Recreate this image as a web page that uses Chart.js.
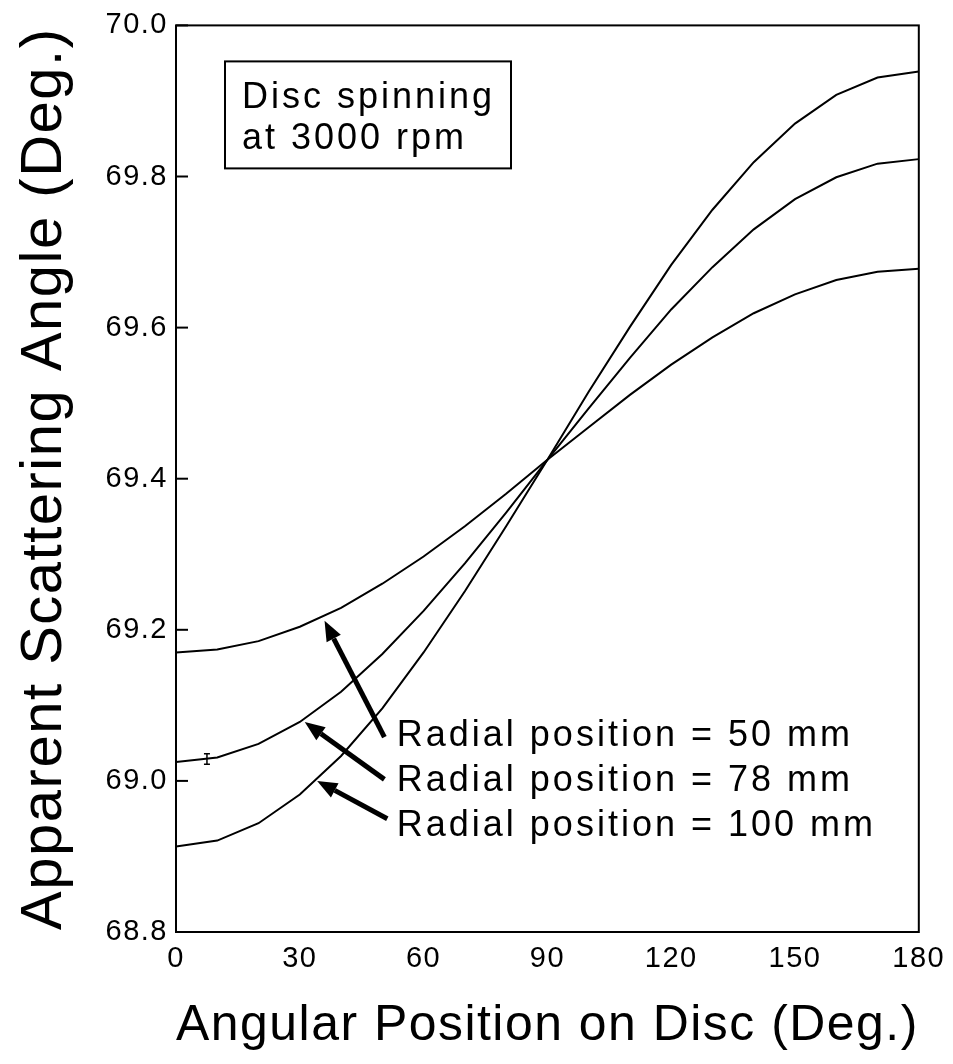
<!DOCTYPE html>
<html lang="en">
<head>
<meta charset="UTF-8">
<title>Apparent scattering angle vs angular position</title>
<script src="https://cdn.jsdelivr.net/npm/chart.js"></script>
<style>
  html, body { margin: 0; padding: 0; background: #fff; }
  #chart { display: block; }
</style>
</head>
<body>
<canvas id="chart" width="953" height="1064"></canvas>
<script>
  // values, every 10 deg
  const angles = [0, 10, 20, 30, 40, 50, 60, 70, 80, 90, 100, 110, 120, 130, 140, 150, 160, 170, 180];
  const r50  = [69.170, 69.174, 69.185, 69.204, 69.229, 69.261, 69.297, 69.337, 69.380, 69.425,
                69.468, 69.511, 69.551, 69.587, 69.619, 69.644, 69.663, 69.674, 69.678];
  const r78  = [69.025, 69.031, 69.049, 69.078, 69.118, 69.168, 69.225, 69.288, 69.355, 69.425,
                69.493, 69.560, 69.624, 69.680, 69.730, 69.770, 69.799, 69.817, 69.823];
  const r100 = [68.913, 68.921, 68.944, 68.982, 69.033, 69.096, 69.170, 69.251, 69.337, 69.425,
                69.515, 69.601, 69.683, 69.756, 69.819, 69.870, 69.908, 69.931, 69.939];
  const xTicks = [0, 30, 60, 90, 120, 150, 180];
  const yTicks = [68.8, 69.0, 69.2, 69.4, 69.6, 69.8, 70.0];
  // error bar on the 78 mm curve
  const errAngle = [7.5];
  const errLow = [69.022];
  const errHigh = [69.036];
  const seriesLabels = ['Radial position = 50 mm', 'Radial position = 78 mm', 'Radial position = 100 mm'];

  const FONT = "'Liberation Sans', Arial, sans-serif";

  // arrows: tail -> tip, in axis units
  const arrows = [
    { from: [50.5, 69.058], to: [36.0, 69.212] },
    { from: [50.5, 69.002], to: [31.2, 69.078] },
    { from: [51.2, 68.950], to: [34.2, 69.000] }
  ];
  const labelPos = [[53.5, 69.046], [53.5, 68.986], [53.5, 68.927]];

  function pts(ys) { return angles.map((a, i) => ({ x: a, y: ys[i] })); }

  const decor = {
    id: 'decor',
    beforeDraw(chart) { chart.ctx.letterSpacing = '1.5px'; },
    afterDraw(chart) {
      const ctx = chart.ctx;
      const xs = chart.scales.x, ys = chart.scales.y;
      const { left, right, top, bottom } = chart.chartArea;
      ctx.save();
      ctx.strokeStyle = '#000';
      ctx.fillStyle = '#000';
      ctx.lineWidth = 2;
      ctx.strokeRect(left, top, right - left, bottom - top);

      // inward ticks on the left axis
      ys.ticks.forEach(t => {
        const y = ys.getPixelForValue(t.value);
        ctx.beginPath(); ctx.moveTo(left, y); ctx.lineTo(left + 12, y); ctx.stroke();
      });

      // error bar
      errAngle.forEach((a, i) => {
        const x = xs.getPixelForValue(a);
        const y1 = ys.getPixelForValue(errLow[i]), y2 = ys.getPixelForValue(errHigh[i]);
        ctx.lineWidth = 1.5;
        ctx.beginPath();
        ctx.moveTo(x, y1); ctx.lineTo(x, y2);
        ctx.moveTo(x - 3, y1); ctx.lineTo(x + 3, y1);
        ctx.moveTo(x - 3, y2); ctx.lineTo(x + 3, y2);
        ctx.stroke();
      });

      // arrows
      arrows.forEach(a => {
        const x1 = xs.getPixelForValue(a.from[0]), y1 = ys.getPixelForValue(a.from[1]);
        const x2 = xs.getPixelForValue(a.to[0]), y2 = ys.getPixelForValue(a.to[1]);
        const ang = Math.atan2(y2 - y1, x2 - x1);
        const hl = 20, hw = 8;
        const bx = x2 - hl * Math.cos(ang), by = y2 - hl * Math.sin(ang);
        ctx.lineWidth = 5;
        ctx.beginPath(); ctx.moveTo(x1, y1); ctx.lineTo(bx, by); ctx.stroke();
        ctx.beginPath();
        ctx.moveTo(x2, y2);
        ctx.lineTo(bx + hw * Math.sin(ang), by - hw * Math.cos(ang));
        ctx.lineTo(bx - hw * Math.sin(ang), by + hw * Math.cos(ang));
        ctx.closePath(); ctx.fill();
      });

      // labels
      ctx.letterSpacing = '3px';
      ctx.font = '36px ' + FONT;
      ctx.textAlign = 'left';
      ctx.textBaseline = 'alphabetic';
      seriesLabels.forEach((s, i) => {
        ctx.fillText(s, xs.getPixelForValue(labelPos[i][0]), ys.getPixelForValue(labelPos[i][1]));
      });

      // text box
      ctx.lineWidth = 2;
      ctx.strokeRect(left + 49, top + 36, 286, 107);
      ctx.fillText('Disc spinning', left + 66, top + 83);
      ctx.fillText('at 3000 rpm', left + 66, top + 124);
      ctx.restore();
    }
  };

  const lineStyle = { borderColor: '#000', borderWidth: 2, pointRadius: 0, tension: 0, fill: false, showLine: true };

  new Chart(document.getElementById('chart'), {
    type: 'scatter',
    data: {
      datasets: [
        Object.assign({ label: seriesLabels[0], data: pts(r50) }, lineStyle),
        Object.assign({ label: seriesLabels[1], data: pts(r78) }, lineStyle),
        Object.assign({ label: seriesLabels[2], data: pts(r100) }, lineStyle)
      ]
    },
    options: {
      responsive: false,
      animation: false,
      devicePixelRatio: 1,
      layout: { padding: { left: 0, right: 25, top: 24, bottom: 0 } },
      plugins: { legend: { display: false }, tooltip: { enabled: false } },
      scales: {
        x: {
          type: 'linear', min: 0, max: 180,
          afterBuildTicks: s => { s.ticks = xTicks.map(v => ({ value: v })); },
          afterFit: s => { s.height = 132; },
          grid: { display: false, drawTicks: false },
          border: { display: false },
          ticks: { color: '#000', font: { family: FONT, size: 29 }, padding: 10, maxRotation: 0, autoSkip: false },
          title: { display: true, text: 'Angular Position on Disc (Deg.)', color: '#000',
                   font: { family: FONT, size: 50 }, padding: { top: 0, bottom: 8 } }
        },
        y: {
          type: 'linear', min: 68.8, max: 70.0,
          afterBuildTicks: s => { s.ticks = yTicks.map(v => ({ value: v })); },
          afterFit: s => { s.width = 176; },
          grid: { display: false, drawTicks: false },
          border: { display: false },
          ticks: { color: '#000', font: { family: FONT, size: 29 }, padding: 8,
                   callback: v => v.toFixed(1) },
          title: { display: true, text: 'Apparent Scattering Angle (Deg.)', color: '#000',
                   font: { family: FONT, size: 58 }, padding: { top: 10, bottom: 0 } }
        }
      }
    },
    plugins: [decor]
  });
</script>
</body>
</html>
